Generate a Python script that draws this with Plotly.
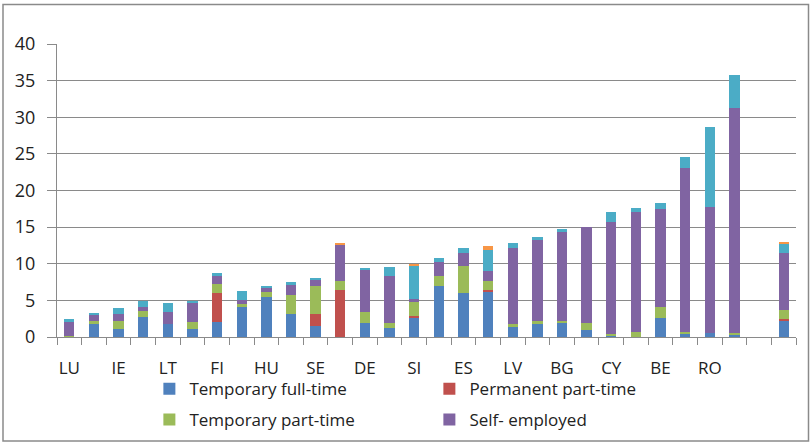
import plotly.graph_objects as go

# ---- data ----
labels = ["LU", "", "IE", "", "LT", "", "FI", "", "HU", "", "SE", "", "DE", "",
          "SI", "", "ES", "", "LV", "", "BG", "", "CY", "", "BE", "", "RO", "", "", ""]

temp_full = [0.1, 1.8, 1.05, 2.7, 1.8, 1.05, 2.05, 4.2, 5.5, 3.1, 1.45, 0.0, 1.9, 1.2,
             2.65, 6.9, 5.95, 6.2, 1.45, 1.75, 1.95, 0.95, 0.25, 0.0, 2.66, 0.5, 0.5, 0.3,
             None, 2.2]
perm_part = [0, 0, 0, 0, 0, 0, 4.0, 0, 0, 0, 1.65, 6.45, 0, 0,
             0.2, 0, 0, 0.2, 0, 0, 0, 0, 0, 0, 0, 0, 0, 0,
             None, 0.23]
temp_part = [0.1, 0.35, 1.2, 0.9, 0.0, 0.95, 1.2, 0.25, 0.7, 2.6, 3.8, 1.2, 1.45, 0.7,
             1.95, 1.4, 3.8, 1.2, 0.27, 0.4, 0.25, 0.95, 0.2, 0.73, 1.38, 0.23, 0.0, 0.23,
             None, 1.24]
self_emp = [1.8, 0.8, 0.95, 0.55, 1.6, 2.6, 1.2, 0.65, 0.55, 1.45, 0.95, 4.95, 5.8, 6.4,
            0.4, 1.95, 1.7, 1.45, 10.45, 11.05, 12.1, 13.1, 15.2, 16.4, 13.5, 22.4, 17.3, 30.8,
            None, 7.85]
series5 = [0.5, 0.3, 0.8, 0.8, 1.2, 0.35, 0.25, 1.2, 0.2, 0.3, 0.27, 0.0, 0.2, 1.2,
           4.6, 0.5, 0.75, 2.8, 0.7, 0.45, 0.45, 0.0, 1.45, 0.46, 0.7, 1.42, 10.9, 4.5,
           None, 1.24]
series6 = [0, 0, 0, 0, 0, 0, 0, 0, 0, 0, 0, 0.2, 0, 0,
           0.2, 0, 0, 0.55, 0, 0, 0, 0, 0, 0, 0, 0, 0, 0,
           None, 0.23]

y_ticks = [0, 5, 10, 15, 20, 25, 30, 35, 40]

x = list(range(len(labels)))

series = [
    ("Temporary full-time", temp_full, "#4F81BD", "legend", True),
    ("Permanent part-time", perm_part, "#C0504D", "legend", True),
    ("Temporary part-time", temp_part, "#9BBB59", "legend2", True),
    ("Self- employed", self_emp, "#8064A2", "legend2", True),
    ("Family workers", series5, "#4BACC6", "legend", False),
    ("Other", series6, "#F79646", "legend", False),
]

fig = go.Figure()
for name, vals, color, leg, show in series:
    fig.add_trace(go.Bar(
        x=x, y=vals, name=name, marker_color=color,
        marker_line_width=0, legend=leg, showlegend=show,
    ))

FONT = "Open Sans, Lato, sans-serif"
GRID = "#8a8a8a"
TXT = "#222222"

fig.update_layout(
    barmode="stack",
    bargap=0.58,
    width=810, height=443,
    margin=dict(l=57, r=14, t=44, b=106, autoexpand=False),
    paper_bgcolor="white", plot_bgcolor="white",
    font=dict(family=FONT, size=17, color=TXT),
    xaxis=dict(
        range=[-0.5, len(labels) - 0.5],
        tickmode="array",
        tickvals=[i for i, l in enumerate(labels) if l],
        ticktext=[l for l in labels if l],
        ticks="", showgrid=False, zeroline=False, automargin=False,
        showline=True, linecolor=GRID, linewidth=1.3,
        ticklabelstandoff=15,
        tickfont=dict(family=FONT, size=17, color=TXT),
        minor=dict(tickmode="array", tickvals=[i - 0.5 for i in range(len(labels) + 1)],
                   ticks="outside", ticklen=7, tickcolor=GRID, tickwidth=1.3, showgrid=False),
    ),
    yaxis=dict(
        range=[0, 40], tickmode="array", tickvals=y_ticks,
        ticks="outside", ticklen=9, tickcolor=GRID, tickwidth=1.3,
        showgrid=True, gridcolor=GRID, gridwidth=1.3, automargin=False,
        zeroline=False, showline=True, linecolor=GRID, linewidth=1.3,
        ticklabelstandoff=8,
        tickfont=dict(family=FONT, size=18, color=TXT),
    ),
    legend=dict(
        orientation="h", x=0.125, xanchor="left", y=-0.178, yanchor="middle",
        entrywidth=235, entrywidthmode="pixels",
        font=dict(family=FONT, size=17, color=TXT),
        bgcolor="rgba(0,0,0,0)", traceorder="normal",
    ),
    legend2=dict(
        orientation="h", x=0.125, xanchor="left", y=-0.283, yanchor="middle",
        entrywidth=235, entrywidthmode="pixels",
        font=dict(family=FONT, size=17, color=TXT),
        bgcolor="rgba(0,0,0,0)", traceorder="normal",
    ),
    shapes=[dict(
        type="rect", xref="paper", yref="paper",
        x0=(3 - 57) / 739, x1=(808.5 - 57) / 739,
        y0=(337 - 441) / 293, y1=(337 - 4.5) / 293,
        line=dict(color=GRID, width=1.5), fillcolor="rgba(0,0,0,0)", layer="below",
    )],
)

fig.write_html("out.html", config={"displayModeBar": False},
               post_script="document.body.style.margin='0px';")
